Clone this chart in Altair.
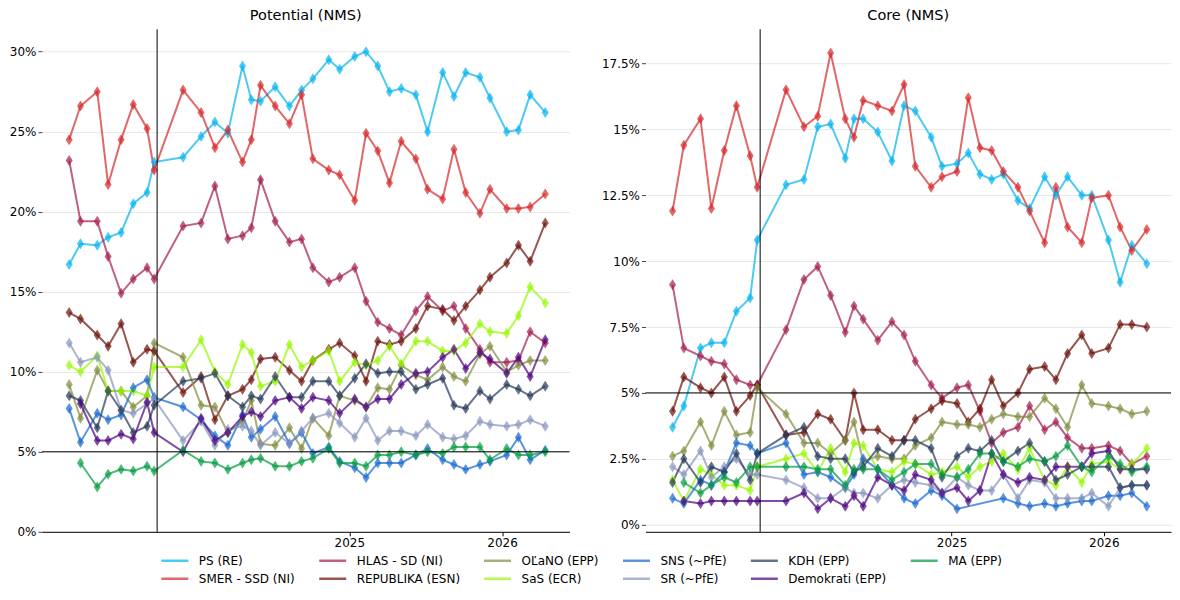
import altair as alt
import pandas as pd

DATES = ["2023-03-04", "2023-03-31", "2023-05-10", "2023-06-05", "2023-07-06", "2023-08-04",
         "2023-09-06", "2023-09-23", "2023-12-01", "2024-01-13", "2024-02-15", "2024-03-17",
         "2024-04-21", "2024-05-12", "2024-06-03", "2024-07-08", "2024-08-11", "2024-09-09",
         "2024-10-06", "2024-11-13", "2024-12-09", "2025-01-14", "2025-02-10", "2025-03-10",
         "2025-04-07", "2025-05-05", "2025-06-09", "2025-07-07", "2025-08-12", "2025-09-08",
         "2025-10-06", "2025-11-09", "2025-12-03", "2026-01-12", "2026-02-09", "2026-03-09",
         "2026-04-14"]
ELECTION_DATE = ["2023-09-30"]

PARTIES = ["PS (RE)", "SMER - SSD (NI)", "HLAS - SD (NI)", "REPUBLIKA (ESN)", "OĽaNO (EPP)",
           "SaS (ECR)", "SNS (~PfE)", "SR (~PfE)", "KDH (EPP)", "Demokrati (EPP)", "MA (EPP)"]
COLORS = ["#00B4F0", "#D62728", "#A21D4E", "#6C0F08", "#808D3E",
          "#96F800", "#1666D0", "#8794BC", "#233758", "#4B0080", "#009B3E"]
LEGEND_ORDER = ["PS (RE)", "HLAS - SD (NI)", "OĽaNO (EPP)", "SNS (~PfE)", "KDH (EPP)", "MA (EPP)",
                "SMER - SSD (NI)", "REPUBLIKA (ESN)", "SaS (ECR)", "SR (~PfE)", "Demokrati (EPP)"]

# ---- Potential (NMS) ----
PS_POT = [16.7, 18.0, 17.9, 18.4, 18.7, 20.5, 21.2, 23.1, 23.4, 24.7, 25.6, 24.9, 29.1, 27.0, 26.9, 27.8, 26.6, 27.6, 28.3, 29.5,
          28.9, 29.7, 30.0, 29.1, 27.5, 27.7, 27.3, 25.0, 28.7, 27.2, 28.7, 28.4, 27.1, 25.0, 25.1, 27.3, 26.2]
SMER_POT = [24.5, 26.6, 27.5, 21.7, 24.5, 26.7, 25.2, 22.6, 27.6, 26.2, 24.0, 25.1, 23.1, 24.5, 27.9, 26.6, 25.5, 27.3, 23.3, 22.6,
            22.3, 20.7, 24.9, 23.8, 21.8, 24.4, 23.3, 21.4, 20.8, 23.9, 21.2, 19.9, 21.4, 20.2, 20.2, 20.3, 21.1]
HLAS_POT = [23.2, 19.4, 19.4, 17.2, 14.9, 15.8, 16.5, 15.8, 19.1, 19.3, 21.6, 18.3, 18.5, 19.0, 22.0, 19.4, 18.1, 18.3, 16.5, 15.6,
            15.9, 16.5, 14.4, 13.1, 12.7, 12.3, 13.8, 14.7, 13.8, 14.1, 12.7, 11.4, 10.6, 10.6, 10.7, 12.5, 11.8]
REP_POT = [13.7, 13.3, 12.3, 11.6, 13.0, 10.6, 11.4, 11.3, 8.7, 9.7, 7.0, 8.5, 8.9, 9.5, 10.8, 10.9, 10.1, 9.4, 10.7, 11.4,
           11.8, 11.0, 9.4, 11.9, 11.7, 11.9, 12.7, 14.1, 13.9, 13.2, 14.1, 15.1, 15.9, 16.8, 17.9, 16.9, 19.3]
OLANO_POT = [9.2, 7.1, 10.1, 8.8, 8.8, 7.8, 8.5, 11.8, 10.9, 7.9, 7.8, 6.2, 6.9, 8.2, 5.5, 5.4, 6.5, 5.2, 7.1, 6.0,
             8.5, 8.2, 7.8, 9.0, 8.9, 10.4, 9.8, 9.5, 10.3, 9.7, 9.4, 11.1, 11.6, 10.0, 10.4, 10.7, 10.7]
SAS_POT = [10.4, 10.0, 11.0, 8.8, 8.8, 8.8, 8.5, 10.3, 10.3, 12.0, 10.0, 9.2, 11.7, 11.2, 9.1, 9.4, 11.7, 10.3, 10.7, 11.3,
           9.4, 10.6, 10.4, 10.7, 11.6, 10.5, 11.9, 11.9, 11.3, 11.3, 11.8, 13.0, 12.5, 12.4, 13.5, 15.3, 14.3]
SNS_POT = [7.7, 5.6, 7.4, 7.0, 7.3, 9.0, 9.5, 8.4, 7.8, 7.0, 6.0, 5.4, 7.3, 5.9, 6.4, 7.2, 5.5, 6.2, 4.9, 5.3,
           4.4, 4.0, 3.4, 4.3, 4.3, 4.3, 4.8, 5.2, 4.5, 4.2, 3.9, 4.2, 4.4, 4.8, 5.9, 4.5, 5.1]
SR_POT = [11.8, 10.6, 10.9, 10.1, 7.6, 7.4, 8.0, 8.3, 5.7, 6.9, 5.4, 6.4, 6.6, 6.3, 5.4, 6.2, 5.5, 6.3, 7.1, 7.4,
          6.8, 5.9, 7.1, 5.7, 6.3, 6.3, 6.0, 6.7, 5.9, 5.8, 6.0, 6.9, 6.7, 6.6, 6.7, 7.0, 6.6]
KDH_POT = [8.5, 8.2, 6.5, 8.8, 7.6, 6.2, 6.6, 7.9, 9.4, 9.6, 9.9, 8.5, 7.8, 8.5, 8.3, 9.7, 8.4, 8.4, 9.4, 9.4,
           8.5, 9.6, 10.5, 9.9, 10.0, 10.0, 8.9, 9.2, 9.6, 7.9, 7.7, 8.8, 8.3, 9.2, 8.9, 8.5, 9.1]
DEM_POT = [None, 8.0, 5.7, 5.7, 6.1, 5.8, 8.1, 6.2, 5.0, 7.1, 5.7, 6.2, 7.2, 7.5, 7.2, 8.2, 8.4, 7.7, 8.4, 8.2,
           7.4, 8.3, 7.8, 8.3, 8.3, 9.2, 9.9, 10.0, 10.9, 11.4, 10.2, 11.2, 10.8, 9.9, 10.9, 9.7, 12.0]
MA_POT = [None, 4.3, 2.8, 3.6, 3.9, 3.8, 4.1, 3.8, 5.1, 4.4, 4.3, 3.9, 4.3, 4.5, 4.6, 4.1, 4.1, 4.4, 4.6, 5.2,
          4.3, 4.3, 4.1, 4.8, 4.8, 5.0, 4.8, 5.0, 4.9, 5.3, 5.3, 5.3, 4.5, 5.2, 4.8, 4.8, 5.0]

# ---- Core (NMS) ----
PS_CORE = [3.7, 4.5, 6.7, 6.9, 6.9, 8.1, 8.6, 10.8, 12.9, 13.1, 15.1, 15.2, 13.9, 15.4, 15.4, 14.9, 13.8, 15.9, 15.7, 14.7,
           13.6, 13.7, 14.1, 13.3, 13.1, 13.3, 12.3, 12.0, 13.2, 12.5, 13.2, 12.5, 12.5, 10.8, 9.2, 10.6, 9.9]
SMER_CORE = [11.9, 14.4, 15.4, 12.0, 14.2, 15.9, 14.0, 12.8, 16.5, 15.1, 15.5, 17.9, 15.4, 14.7, 16.1, 15.9, 15.7, 16.7, 13.6, 12.8,
             13.2, 13.4, 16.2, 14.3, 14.2, 13.4, 12.8, 11.9, 10.7, 12.8, 11.3, 10.7, 12.4, 12.5, 11.3, 10.4, 11.2]
HLAS_CORE = [9.1, 6.7, 6.4, 6.2, 6.1, 5.5, 5.3, 5.3, 7.4, 9.3, 9.8, 8.7, 7.3, 8.3, 7.8, 7.0, 7.7, 7.2, 6.2, 5.3,
             4.8, 5.2, 5.3, 4.3, 3.1, 3.5, 3.7, 4.5, 3.6, 3.9, 3.3, 2.9, 2.9, 3.0, 2.8, 2.3, 2.6]
REP_CORE = [4.3, 5.6, 5.2, 5.0, 5.6, 4.3, 4.9, 5.3, 3.4, 3.5, 4.2, 4.0, 3.2, 5.0, 3.6, 3.6, 3.2, 3.2, 4.0, 4.4,
            4.7, 4.6, 3.9, 4.4, 5.5, 4.5, 5.0, 5.9, 6.0, 5.5, 6.5, 7.2, 6.5, 6.7, 7.6, 7.6, 7.5]
OLANO_CORE = [2.6, 2.8, 3.9, 3.0, 4.3, 3.4, 3.5, 5.2, 4.2, 3.1, 3.1, 2.7, 3.2, 3.9, 2.4, 2.6, 2.5, 2.5, 3.0, 3.3,
              3.9, 3.8, 3.8, 3.7, 4.0, 4.2, 4.1, 4.1, 4.8, 4.4, 3.7, 5.3, 4.6, 4.5, 4.4, 4.2, 4.3]
SAS_CORE = [1.7, 0.9, 2.1, 1.9, 1.5, 1.5, 1.3, 2.2, 2.5, 2.7, 2.0, 2.9, 2.0, 3.1, 3.0, 2.1, 2.0, 2.4, 2.3, 1.9,
            2.0, 2.2, 1.8, 2.2, 2.4, 2.7, 2.1, 2.9, 1.7, 1.5, 2.2, 1.6, 2.3, 2.4, 2.1, 2.3, 2.9]
SNS_CORE = [1.0, 0.8, 1.7, 1.5, 2.0, 3.1, 3.0, 2.7, 3.1, 1.9, 2.0, 1.8, 1.4, 1.9, 2.5, 2.1, 1.5, 1.0, 0.8, 1.3,
            1.1, 0.6, None, None, None, 1.0, 0.8, 0.7, 0.8, 0.7, 0.8, 0.9, 0.9, 1.1, 1.1, 1.2, 0.7]
SR_CORE = [2.2, 1.9, 2.8, 1.8, 2.2, 2.5, 1.9, 1.9, 1.7, 1.4, 1.0, 1.0, 1.4, 1.2, 1.2, 1.0, 1.5, 1.7, 1.6, 1.5,
           1.2, 1.8, 1.5, 1.3, 1.3, 1.9, 1.0, 1.7, 1.6, 1.0, 1.0, 1.0, 1.2, 0.7, 1.4, 1.5, 1.5]
KDH_CORE = [1.6, 2.5, 1.6, 2.2, 2.0, 2.7, 1.7, 2.7, 3.4, 3.7, 2.6, 2.5, 2.5, 2.0, 2.2, 2.9, 2.6, 3.2, 3.2, 2.9,
            1.8, 2.6, 2.9, 2.8, 3.2, 2.4, 2.8, 3.1, 2.4, 1.7, 1.9, 2.2, 2.2, 2.2, 1.4, 1.5, 1.5]
DEM_CORE = [None, 0.9, 0.8, 0.9, 0.9, 0.9, 0.9, 0.9, 0.9, 1.2, 0.6, 1.0, 0.7, 1.1, 0.7, 1.8, 1.5, 1.3, 1.9, 1.7,
            1.2, 1.4, 0.9, 1.3, 2.7, 1.9, 1.6, 1.8, 1.7, 2.2, 2.2, 2.2, 2.7, 2.8, 2.1, 2.1, 2.1]
MA_CORE = [None, 1.6, 1.2, 1.5, 1.8, 1.6, 2.2, 2.2, 2.2, 2.2, 2.1, 2.1, 1.5, 2.1, 2.1, 2.1, 1.7, 2.0, 2.3, 2.3,
           1.9, 1.8, 2.1, 2.7, 2.7, 2.4, 2.2, 2.5, 2.4, 2.6, 3.0, 2.2, 2.0, 2.6, 2.3, 2.0, 2.2]

POT = [PS_POT, SMER_POT, HLAS_POT, REP_POT, OLANO_POT, SAS_POT, SNS_POT, SR_POT, KDH_POT, DEM_POT, MA_POT]
CORE = [PS_CORE, SMER_CORE, HLAS_CORE, REP_CORE, OLANO_CORE, SAS_CORE, SNS_CORE, SR_CORE, KDH_CORE, DEM_CORE, MA_CORE]


def long_frame(series_list):
    rows = []
    for z, (party, vals) in enumerate(zip(PARTIES, series_list)):
        assert len(vals) == len(DATES), party
        for d, v in zip(DATES, vals):
            if v is not None:
                rows.append({"date": d, "party": party, "value": v, "z": z})
    return pd.DataFrame(rows)


df_pot = long_frame(POT)
df_core = long_frame(CORE)
df_election = pd.DataFrame({"date": ELECTION_DATE})

color_lookup = dict(zip(PARTIES, COLORS))
legend_colors = [color_lookup[p] for p in LEGEND_ORDER]

DIAMOND = "M0,-1L0.64,0L0,1L-0.64,0Z"
FONT = "DejaVu Sans"

x_dom = [alt.DateTime(year=2022, month=12, date=29), alt.DateTime(year=2026, month=6, date=11)]
x_ticks = [alt.DateTime(year=2025, month=1, date=1), alt.DateTime(year=2026, month=1, date=1)]

color_enc = alt.Color(
    "party:N",
    scale=alt.Scale(domain=LEGEND_ORDER, range=legend_colors),
    legend=alt.Legend(
        title=None, orient="none", legendX=118, legendY=525, direction="horizontal", columns=6,
        symbolType="stroke", symbolStrokeWidth=2.5, symbolSize=729, symbolOpacity=0.7,
        clipHeight=14, labelFont=FONT, labelFontSize=12, labelColor="black", labelOffset=9,
        columnPadding=22, rowPadding=4, padding=0,
    ),
)


def panel(df, title, ydom, yvals, width):
    x = alt.X(
        "date:T", title=None,
        scale=alt.Scale(domain=x_dom),
        axis=alt.Axis(values=x_ticks, format="%Y", grid=False, domainColor="black", domainWidth=1,
                      tickColor="black", tickSize=4, labelPadding=2, labelFont=FONT, labelFontSize=12,
                      labelColor="black"),
    )
    y = alt.Y(
        "value:Q", title=None,
        scale=alt.Scale(domain=ydom, nice=False, zero=False),
        axis=alt.Axis(values=yvals, labelExpr="datum.value + '%'", domain=False, tickSize=4,
                      tickColor="#444444", gridColor="#e8e8e8", labelPadding=2, labelFont=FONT,
                      labelFontSize=12, labelColor="black"),
    )
    base = alt.Chart(df)
    lines = base.mark_line(strokeWidth=2, opacity=0.7).encode(x=x, y=y, color=color_enc)
    pts = base.mark_point(shape=DIAMOND, size=121, filled=True, opacity=0.7).encode(
        x=x, y=y, color=color_enc, order=alt.Order("z:Q"))
    ev = alt.Chart(df_election).mark_rule(color="black", strokeWidth=1).encode(x="date:T")
    thr = alt.Chart(df_election).mark_rule(color="black", strokeWidth=1).encode(y=alt.datum(5))
    return alt.layer(lines, pts, ev, thr).properties(
        width=width, height=503,
        title=alt.TitleParams(title, font=FONT, fontSize=14.5, fontWeight="normal", color="black",
                              anchor="middle", offset=5),
    )


left = panel(df_pot, "Potential (NMS)", [0, 31.4], [0, 5, 10, 15, 20, 25, 30], 528)
right = panel(df_core, "Core (NMS)", [-0.27, 18.8], [0, 2.5, 5, 7.5, 10, 12.5, 15, 17.5], 526)

chart = (
    alt.hconcat(left, right, spacing=30)
    .resolve_scale(x="independent", y="independent", color="shared")
    .properties(padding={"left": 1, "top": 0, "right": 0, "bottom": 0})
    .configure_view(stroke=None)
)

chart.save("out.html", embed_options={"renderer": "svg", "actions": False})
